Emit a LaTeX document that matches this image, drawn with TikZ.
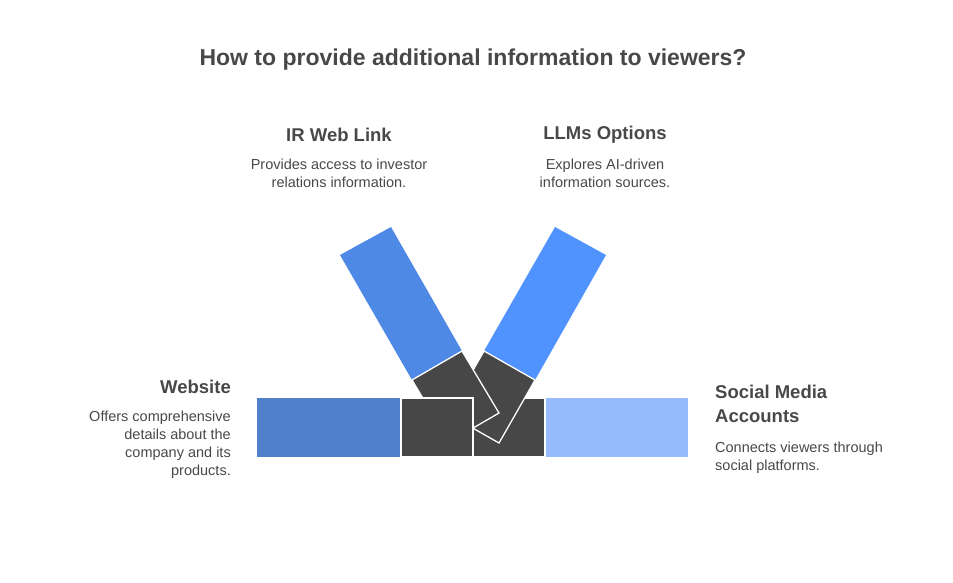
\documentclass[tikz,border=0pt]{standalone}
\usepackage{fontspec}
\setmainfont{Liberation Sans}
\begin{document}
\begin{tikzpicture}[x=1pt,y=-1pt,
  txt/.style={text=tc,font=\fontsize{14.5}{18}\selectfont,inner sep=0pt},
  hd/.style={text=tc,font=\bfseries\fontsize{18.5}{24}\selectfont,inner sep=0pt},
  dk/.style={fill=dgray,draw=white,line width=1.3pt,line join=miter}]
\definecolor{tc}{HTML}{484848}
\definecolor{dgray}{HTML}{474747}
\definecolor{bA}{HTML}{4E89E6}
\definecolor{bB}{HTML}{5093FF}
\definecolor{bC}{HTML}{5080CA}
\definecolor{bD}{HTML}{97BCFD}
\useasboundingbox (0,0) rectangle (953,583);
\node[text=tc,font=\bfseries\fontsize{23}{28}\selectfont] (title) at (473,60) {How to provide additional information to viewers?};
% bars
\fill[bC] (257,398) rectangle (401,457);
\fill[bD] (545,398) rectangle (688,457);
\fill[bA] (340,255) -- (391,227) -- (462,351) -- (412,380) -- cycle;
\fill[bB] (555,227) -- (606,255) -- (535,380) -- (484,351) -- cycle;
\draw[dk] (473,398) rectangle (545,457);
\draw[dk] (484,351) -- (535,380) -- (499,443) -- (448,414) -- cycle;
\draw[dk] (412,380) -- (462,351) -- (499,413) -- (449,442) -- cycle;
\draw[dk] (401,398) rectangle (473,457);
% texts
\node[hd] (ir) at (339,135) {IR Web Link};
\node[txt,align=center,anchor=north] (ird) at (339,159) {Provides access to investor\\relations information.};
\node[hd] (llm) at (605,135) {LLMs Options};
\node[txt,align=center,anchor=north] (llmd) at (605,159) {Explores AI-driven\\information sources.};
\node[hd,anchor=east] (web) at (231,387) {Website};
\node[txt,align=right,anchor=north east] (webd) at (231,411) {Offers comprehensive\\details about the\\company and its\\products.};
\node[hd,align=left,anchor=north west] (soc) at (715,385) {Social Media\\Accounts};
\node[txt,align=left,anchor=north west] (socd) at (715,442) {Connects viewers through\\social platforms.};
\end{tikzpicture}
\end{document}
